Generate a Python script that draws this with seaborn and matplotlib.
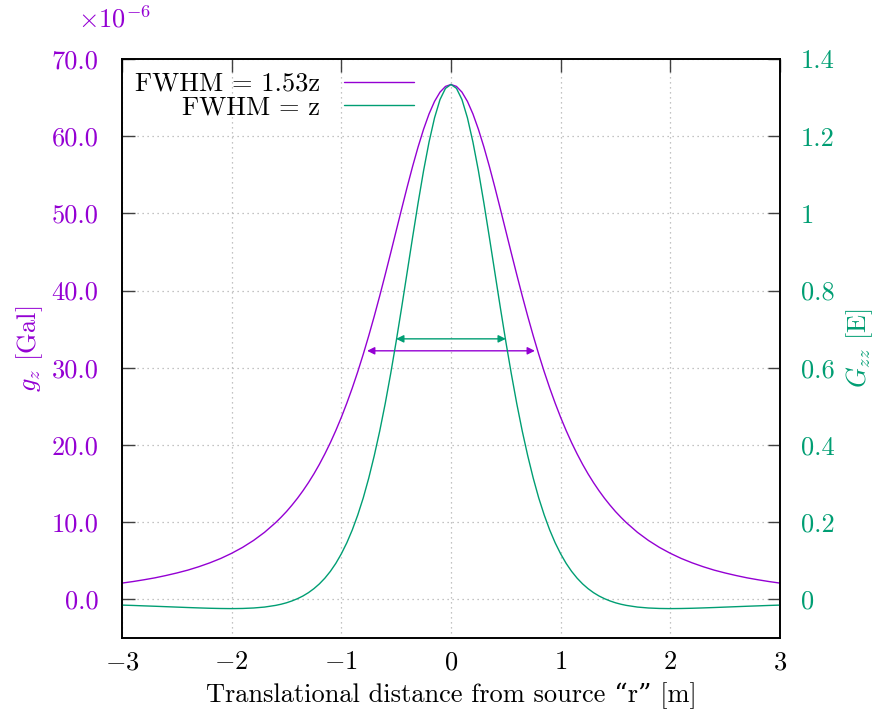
import numpy as np
import pandas as pd
import matplotlib
matplotlib.use("Agg")
import matplotlib.pyplot as plt
import seaborn as sns

# ---- data (symmetric about r = 0) ----
r_half = [0.0, 0.05, 0.1, 0.15, 0.2, 0.25, 0.3, 0.35, 0.4, 0.45, 0.5,
          0.55, 0.6, 0.65, 0.7, 0.75, 0.8, 0.85, 0.9, 0.95, 1.0,
          1.05, 1.1, 1.15, 1.2, 1.25, 1.3, 1.35, 1.4, 1.45, 1.5, 1.55,
          1.6, 1.7, 1.8, 1.9, 2.0,
          2.1, 2.2, 2.3, 2.4, 2.5, 2.6, 2.7, 2.8, 2.9, 3.0]
gz_half = [66.70, 66.45, 65.71, 64.51, 62.89, 60.90, 58.61, 56.09, 53.39, 50.58, 47.73,
           44.87, 42.06, 39.31, 36.67, 34.15, 31.76, 29.50, 27.39, 25.42, 23.58,
           21.88, 20.30, 18.85, 17.50, 16.26, 15.12, 14.07, 13.10, 12.21, 11.38, 10.63,
           9.93, 8.69, 7.64, 6.74, 5.97,
           5.30, 4.73, 4.23, 3.79, 3.42, 3.09, 2.79, 2.54, 2.31, 2.11]  # x1e-6 Gal
gzz_half = [1.334, 1.324, 1.295, 1.2476, 1.185, 1.1106, 1.027, 0.9381, 0.847, 0.7561, 0.668,
            0.5848, 0.507, 0.4360, 0.372, 0.3142, 0.263, 0.2188, 0.180, 0.1466, 0.118,
            0.0934, 0.0726, 0.0550, 0.0402, 0.0278, 0.0174, 0.0088, 0.0018, -0.0040, -0.0088, -0.0126,
            -0.0156, -0.0199, -0.0223, -0.0235, -0.0239,
            -0.0236, -0.0230, -0.0221, -0.0211, -0.0200, -0.0189, -0.0178, -0.0168, -0.0157, -0.0148]  # E

fwhm_gz = 1.53   # z
fwhm_gzz = 1.0   # z
arrow_gz_level = 32.2    # left axis units
arrow_gzz_level = 0.675  # right axis units

legend_labels = ["FWHM = 1.53z", "FWHM = z"]
x_ticks = [-3, -2, -1, 0, 1, 2, 3]
x_ticklabels = [r"$-3$", r"$-2$", r"$-1$", r"$0$", r"$1$", r"$2$", r"$3$"]
y1_ticks = [0, 10, 20, 30, 40, 50, 60, 70]
y1_ticklabels = ["0.0", "10.0", "20.0", "30.0", "40.0", "50.0", "60.0", "70.0"]
y2_ticks = [0, 0.2, 0.4, 0.6, 0.8, 1.0, 1.2, 1.4]
y2_ticklabels = ["0", "0.2", "0.4", "0.6", "0.8", "1", "1.2", "1.4"]

r_all = [-v for v in r_half[::-1]] + r_half[1:]
gz_all = gz_half[::-1] + gz_half[1:]
gzz_all = gzz_half[::-1] + gzz_half[1:]
df = pd.DataFrame({"r": r_all, "gz": gz_all, "gzz": gzz_all})

PURPLE = "#9400D3"
GREEN = "#009E73"

sns.set_style("white")
plt.rcParams["font.family"] = ["cmr10", "DejaVu Serif"]
plt.rcParams["mathtext.fontset"] = "cm"
plt.rcParams["axes.formatter.use_mathtext"] = True
plt.rcParams["axes.unicode_minus"] = True
plt.rcParams["text.color"] = "black"
plt.rcParams["xtick.color"] = "black"
plt.rcParams["ytick.color"] = "black"
plt.rcParams["axes.labelcolor"] = "black"

fig = plt.figure(figsize=(8.74, 7.11), dpi=100)
ax = fig.add_axes([0.1396, 0.1027, 0.8924 - 0.1396, 0.917 - 0.1027])
ax2 = ax.twinx()

sns.lineplot(data=df, x="r", y="gz", ax=ax, color=PURPLE, lw=1.0)
sns.lineplot(data=df, x="r", y="gzz", ax=ax2, color=GREEN, lw=1.0)

ax.set_xlim(-3, 3)
ax.set_ylim(-5, 70)
ax2.set_ylim(-0.1, 1.4)

FS = 19
ax.set_xticks(x_ticks)
ax.set_xticklabels(x_ticklabels, fontsize=FS)
ax.set_yticks(y1_ticks)
ax.set_yticklabels(y1_ticklabels, fontsize=FS, color=PURPLE)
ax2.set_yticks(y2_ticks)
ax2.set_yticklabels(y2_ticklabels, fontsize=FS, color=GREEN)

ax.tick_params(axis="x", direction="in", length=9, width=1, color="#404040",
               top=True, pad=9)
ax.tick_params(axis="y", direction="in", length=9, width=1, color="#404040",
               right=False, pad=17)
ax2.tick_params(axis="y", direction="in", length=9, width=1, color="#404040",
                pad=15)

ax.grid(True, linestyle=(0, (1, 3)), color="#b0b0b0", lw=0.9)
for a in (ax, ax2):
    for s in a.spines.values():
        s.set_color("black")
        s.set_linewidth(1.2)

ax.set_xlabel("Translational distance from source \u201cr\u201d [m]", fontsize=FS, labelpad=6)
ax.set_ylabel(r"$g_z$ [Gal]", fontsize=FS, color=PURPLE, labelpad=5)
ax2.set_ylabel(r"$G_{zz}$ [E]", fontsize=FS, color=GREEN, labelpad=7)

ax.text(-0.067, 1.045, r"$\times 10^{-6}$", transform=ax.transAxes, fontsize=FS,
        color=PURPLE, ha="left", va="bottom")

# FWHM arrows
ax.annotate("", xy=(-fwhm_gz / 2, arrow_gz_level), xytext=(fwhm_gz / 2, arrow_gz_level),
            arrowprops=dict(arrowstyle="<|-|>", color=PURPLE, lw=1.0,
                            mutation_scale=11, shrinkA=0, shrinkB=0))
ax2.annotate("", xy=(-fwhm_gzz / 2, arrow_gzz_level), xytext=(fwhm_gzz / 2, arrow_gzz_level),
             arrowprops=dict(arrowstyle="<|-|>", color=GREEN, lw=1.0,
                             mutation_scale=11, shrinkA=0, shrinkB=0))

handles = [plt.Line2D([], [], color=PURPLE, lw=1.0),
           plt.Line2D([], [], color=GREEN, lw=1.0)]
leg = ax2.legend(handles, legend_labels, loc="upper left", frameon=False,
                 markerfirst=False, fontsize=FS, handlelength=2.65,
                 borderaxespad=0.2, labelspacing=0.0, handletextpad=0.9,
                 borderpad=0.3)
for t in leg.get_texts():
    t.set_ha("right")
leg._legend_box.align = "right"

fig.savefig("out.png", dpi=100)
